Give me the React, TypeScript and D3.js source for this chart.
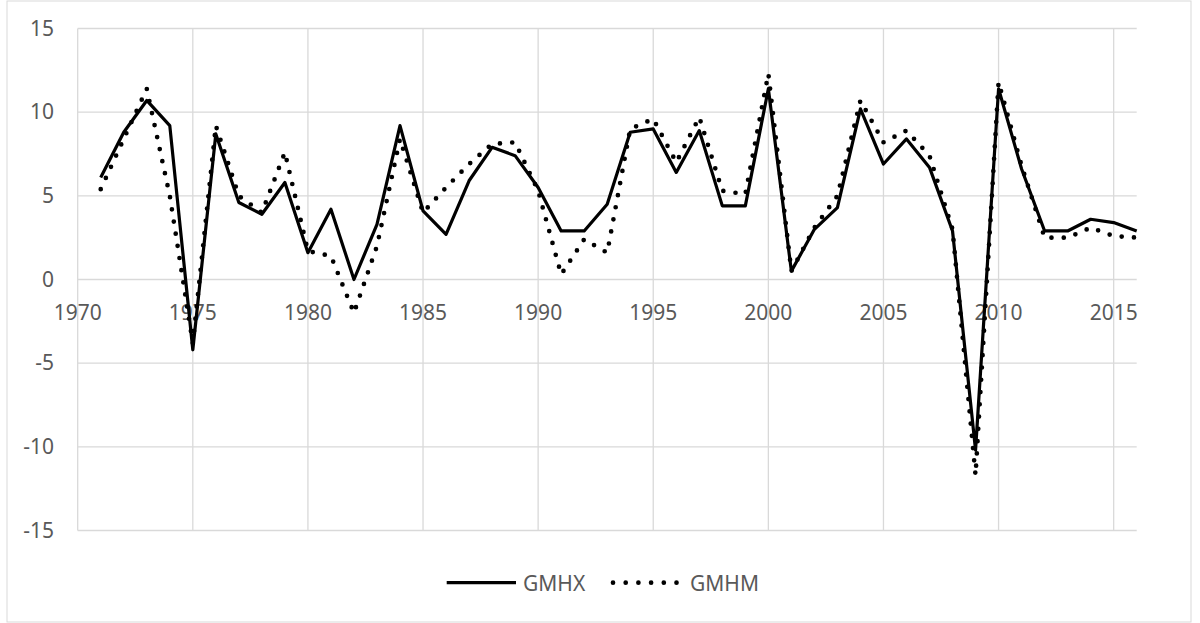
import React from "react";
import * as d3 from "d3";

// Annual growth rates, 1971–2016
const years = [
  1971, 1972, 1973, 1974, 1975, 1976, 1977, 1978, 1979, 1980,
  1981, 1982, 1983, 1984, 1985, 1986, 1987, 1988, 1989, 1990,
  1991, 1992, 1993, 1994, 1995, 1996, 1997, 1998, 1999, 2000,
  2001, 2002, 2003, 2004, 2005, 2006, 2007, 2008, 2009, 2010,
  2011, 2012, 2013, 2014, 2015, 2016,
];

const gmhx = [
  6.1, 8.8, 10.7, 9.2, -4.2, 8.7, 4.6, 3.9, 5.8, 1.6,
  4.2, 0.0, 3.3, 9.2, 4.1, 2.7, 5.9, 7.9, 7.4, 5.5,
  2.9, 2.9, 4.5, 8.8, 9.0, 6.4, 8.9, 4.4, 4.4, 11.4,
  0.5, 3.0, 4.3, 10.2, 6.9, 8.4, 6.7, 2.9, -10.2, 11.4,
  6.6, 2.9, 2.9, 3.6, 3.4, 2.9,
];

const gmhm = [
  5.4, 8.4, 11.4, 5.0, -3.8, 9.2, 5.0, 4.0, 7.6, 1.7,
  1.4, -2.0, 2.0, 8.4, 4.0, 5.5, 6.9, 8.1, 8.2, 5.3,
  0.3, 2.4, 1.6, 9.0, 9.6, 7.0, 9.7, 5.3, 5.1, 12.3,
  0.5, 3.1, 5.0, 10.7, 8.2, 8.9, 7.4, 3.0, -11.7, 11.8,
  6.8, 2.5, 2.5, 3.1, 2.6, 2.5,
];

const xTicks = [1970, 1975, 1980, 1985, 1990, 1995, 2000, 2005, 2010, 2015];
const yTicks = [-15, -10, -5, 0, 5, 10, 15];
const seriesNames = ["GMHX", "GMHM"];

const W = 1200;
const H = 623;
const FONT = "'Noto Sans', 'Open Sans', sans-serif";
const TEXT = "#595959";
const GRID = "#d9d9d9";

export default function App() {
  const x = d3.scaleLinear().domain([1970, 2016]).range([77.7, 1136.7]);
  const y = d3.scaleLinear().domain([-15, 15]).range([530.5, 28.5]);

  const line = d3
    .line<number>()
    .x((_, i) => x(years[i]))
    .y((d) => y(d));

  return (
    <svg
      width={W}
      height={H}
      style={{ position: "absolute", left: 0, top: 0, display: "block" }}
      fontFamily={FONT}
    >
      <rect x={0} y={0} width={W} height={H} fill="#fff" />
      <rect x={7} y={1} width={1184} height={621} fill="#fff" stroke={GRID} strokeWidth={1} />

      {/* horizontal gridlines */}
      {yTicks.map((t) => (
        <line key={"h" + t} x1={x(1970)} x2={x(2016)} y1={y(t)} y2={y(t)} stroke={GRID} strokeWidth={1.3} />
      ))}
      {/* vertical gridlines */}
      {xTicks.map((t) => (
        <line key={"v" + t} x1={x(t)} x2={x(t)} y1={y(15)} y2={y(-15)} stroke={GRID} strokeWidth={1.3} />
      ))}

      {/* y-axis labels */}
      {yTicks.map((t) => (
        <text key={"yl" + t} x={54} y={y(t) + 7} textAnchor="end" fontSize={21} fill={TEXT}>
          {t}
        </text>
      ))}
      {/* x-axis labels, sitting on the zero line */}
      {xTicks.map((t) => (
        <text key={"xl" + t} x={x(t)} y={y(0) + 40.5} textAnchor="middle" fontSize={21} fill={TEXT}>
          {t}
        </text>
      ))}

      {/* series */}
      <path
        d={line(gmhm) ?? ""}
        fill="none"
        stroke="#000"
        strokeWidth={4.7}
        strokeLinecap="round"
        strokeDasharray="0 12.3"
      />
      <path d={line(gmhx) ?? ""} fill="none" stroke="#000" strokeWidth={3.2} strokeLinejoin="round" />

      {/* legend */}
      <line x1={446.7} x2={516} y1={582.7} y2={582.7} stroke="#000" strokeWidth={3.2} />
      <text x={523} y={590.5} fontSize={21} fill={TEXT}>
        {seriesNames[0]}
      </text>
      <line
        x1={613}
        x2={677}
        y1={582.7}
        y2={582.7}
        stroke="#000"
        strokeWidth={4.7}
        strokeLinecap="round"
        strokeDasharray="0 12.7"
      />
      <text x={690} y={590.5} fontSize={21} fill={TEXT}>
        {seriesNames[1]}
      </text>
    </svg>
  );
}
